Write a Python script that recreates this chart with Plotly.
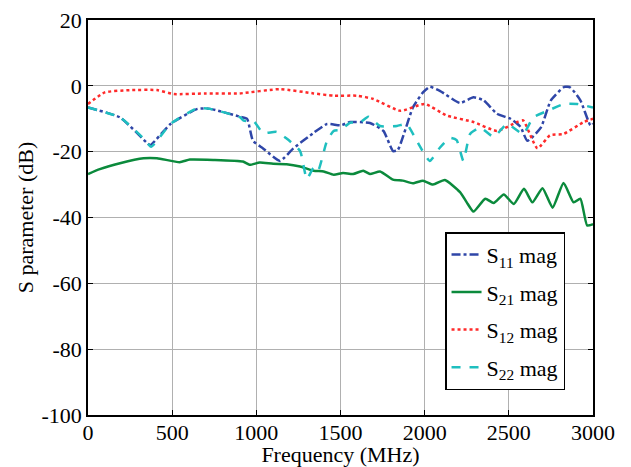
import plotly.graph_objects as go

# S11 (dash-dot blue)
s11_f = [0, 190, 350, 370, 490, 650, 725, 905, 945, 980, 1040, 1140, 1220, 1340, 1420, 1500,
         1557, 1675, 1755, 1812, 1840, 1930, 1990, 2030, 2090, 2210, 2290, 2350, 2430, 2510,
         2570, 2610, 2690, 2750, 2830, 2865, 2925, 2985, 3000]
s11_db = [-6.6, -9.6, -17.3, -18.0, -11.6, -7.0, -7.0, -9.4, -10.0, -16.7, -19.0, -22.8, -19.0, -14.3, -11.6, -12.0,
          -11.0, -11.3, -13.7, -19.8, -19.5, -6.6, -2.0, -0.3, -1.5, -5.2, -3.5, -4.4, -8.5, -10.0,
          -12.5, -16.7, -12.7, -4.4, -0.3, -0.5, -4.4, -12.0, -11.5]

# S21 (solid green)
s21_f = [0, 70, 190, 330, 410, 545, 605, 745, 920, 960, 1020, 1100, 1180, 1260, 1340, 1400, 1460,
         1515, 1575, 1635, 1675, 1735, 1812, 1870, 1930, 1990, 2050, 2120, 2210, 2250, 2290, 2360,
         2410, 2470, 2530, 2590, 2640, 2700, 2760, 2825, 2885, 2925, 2965, 3000]
s21_db = [-26.8, -25.3, -23.5, -22.0, -22.0, -23.2, -22.4, -22.5, -23.0, -24.0, -23.3, -23.7, -23.8, -24.5, -25.8, -26.0, -27.0,
          -26.5, -26.8, -25.8, -26.8, -26.0, -28.5, -28.8, -29.6, -28.8, -30.0, -28.6, -32.3, -35.4, -38.2, -34.3,
          -35.6, -33.0, -35.9, -31.3, -35.4, -31.1, -37.0, -29.5, -35.4, -34.3, -42.4, -42.0]

# S12 (dotted red)
s12_f = [0, 100, 250, 410, 510, 700, 900, 1140, 1340, 1460, 1600, 1695, 1855, 2000, 2130, 2290,
         2430, 2550, 2585, 2670, 2745, 2825, 2945, 3000]
s12_db = [-5.5, -2.0, -1.3, -1.3, -2.5, -2.3, -2.3, -1.0, -2.3, -3.0, -3.0, -4.0, -7.6, -5.5, -9.0, -11.0,
          -13.7, -11.0, -10.5, -19.0, -15.0, -14.6, -11.0, -10.0]

# S22 (dashed cyan)
s22_f = [0, 190, 340, 375, 490, 650, 725, 905, 925, 985, 1040, 1120, 1180, 1260, 1300, 1340, 1365,
         1420, 1460, 1500, 1557, 1615, 1665, 1735, 1835, 1893, 1953, 2030, 2090, 2150, 2190, 2230,
         2270, 2330, 2410, 2490, 2585, 2645, 2730, 2830, 2905, 3000]
s22_db = [-6.6, -9.6, -16.5, -18.5, -11.6, -6.8, -7.0, -9.6, -10.6, -10.8, -14.3, -14.0, -16.0, -19.8, -28.3, -24.9, -26.0,
          -16.7, -13.7, -13.4, -11.2, -11.2, -9.4, -12.2, -12.2, -11.6, -16.7, -22.8, -18.8, -15.8, -16.5, -22.8,
          -14.6, -12.7, -15.5, -11.6, -14.6, -9.6, -7.6, -5.5, -5.5, -6.6]

x_ticks = [0, 500, 1000, 1500, 2000, 2500, 3000]
y_ticks = [20, 0, -20, -40, -60, -80, -100]

FONT = "Liberation Serif"
FS = 22

fig = go.Figure()
fig.add_trace(go.Scatter(x=s11_f, y=s11_db, mode="lines", name="S<sub>11</sub> mag", legendgroup="a",
                         line=dict(color="#2f46a8", width=2.5, dash="dashdot", shape="spline", smoothing=0.5)))
fig.add_trace(go.Scatter(x=s21_f, y=s21_db, mode="lines", name="S<sub>21</sub> mag", legendgroup="b",
                         line=dict(color="#0b8a3c", width=2.5, dash="solid", shape="spline", smoothing=0.5)))
fig.add_trace(go.Scatter(x=s12_f, y=s12_db, mode="lines", name="S<sub>12</sub> mag", legendgroup="c",
                         line=dict(color="#ff2a2a", width=2.5, dash="dot", shape="spline", smoothing=0.5)))
fig.add_trace(go.Scatter(x=s22_f, y=s22_db, mode="lines", name="S<sub>22</sub> mag", legendgroup="d",
                         line=dict(color="#1fbfbf", width=2.5, dash="dash", shape="spline", smoothing=0.5)))

axis_common = dict(showline=True, linecolor="black", linewidth=1.5, mirror="ticks",
                   ticks="inside", ticklen=5, tickcolor="black", automargin=False,
                   ticklabeloverflow="allow",
                   showgrid=True, gridcolor="#b0b0b0", gridwidth=1, zeroline=False,
                   tickfont=dict(family=FONT, size=FS, color="black"))

fig.update_xaxes(range=[0, 3000], tickvals=x_ticks, ticktext=[str(v) for v in x_ticks],
                 ticklabelstandoff=-3,
                 title=dict(text="Frequency (MHz)", font=dict(family=FONT, size=FS, color="black"), standoff=0),
                 **axis_common)
fig.update_yaxes(range=[-100, 20], tickvals=y_ticks, ticktext=[str(v) for v in y_ticks],
                 title=dict(text="S parameter (dB)", font=dict(family=FONT, size=FS, color="black"), standoff=2),
                 **axis_common)

fig.update_layout(
    width=623, height=459,
    margin=dict(l=80, r=38, t=12, b=52),
    paper_bgcolor="white", plot_bgcolor="white",
    font=dict(family=FONT, size=FS, color="black"),
    legend=dict(x=0.707, y=0.463, xanchor="left", yanchor="top",
                bgcolor="white", bordercolor="black", borderwidth=1.5, tracegroupgap=6,
                font=dict(family=FONT, size=FS, color="black"), itemwidth=30),
    showlegend=True,
)

fig.write_html("out.html")
